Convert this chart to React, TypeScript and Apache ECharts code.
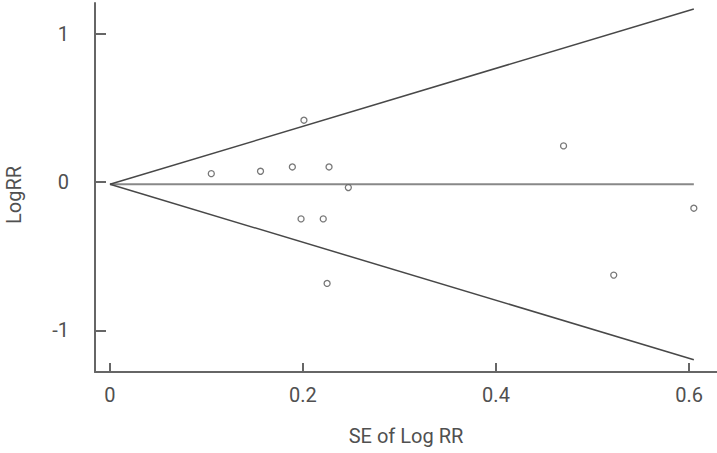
import React, { useEffect, useRef } from "react";
import * as echarts from "echarts";

// Study-level estimates
const seValues = [0.105, 0.156, 0.189, 0.201, 0.227, 0.247, 0.198, 0.221, 0.225, 0.47, 0.522, 0.605];
const logRRValues = [0.057, 0.073, 0.102, 0.417, 0.102, -0.037, -0.248, -0.248, -0.683, 0.244, -0.627, -0.176];

// Pooled estimate and funnel limits
const pooledLogRR = -0.015;
const funnelSE = [0, 0.605];
const upperLimit = [-0.015, 1.167];
const lowerLimit = [-0.015, -1.197];

const xTickValues = [0, 0.2, 0.4, 0.6];
const yTickValues = [-1, 0, 1];

const FONT = "Roboto, 'Liberation Sans', sans-serif";

export default function App() {
  const ref = useRef<HTMLDivElement>(null);

  useEffect(() => {
    if (!ref.current) return;
    const chart = echarts.init(ref.current, null, { renderer: "svg" });
    const points = seValues.map((x, i) => [x, logRRValues[i]]);
    const axisColor = "#666666";
    const textColor = "#505050";
    chart.setOption({
      animation: false,
      backgroundColor: "#ffffff",
      grid: { left: 95, right: 0, top: 3, bottom: 81 },
      graphic: [
        {
          type: "text",
          x: 14,
          y: 195,
          rotation: Math.PI / 2,
          style: {
            text: "LogRR",
            fontFamily: FONT,
            fontSize: 20,
            fill: textColor,
            align: "center",
            verticalAlign: "middle",
          },
        },
      ],
      xAxis: {
        type: "value",
        min: -0.0155,
        max: 0.629,
        name: "SE of Log RR",
        nameLocation: "middle",
        nameGap: 54,
        nameTextStyle: { fontFamily: FONT, fontSize: 20, color: textColor },
        splitLine: { show: false },
        axisLine: { show: true, onZero: false, lineStyle: { color: axisColor, width: 2 } },
        axisTick: {
          show: true,
          inside: true,
          length: 9,
          customValues: xTickValues,
          lineStyle: { color: axisColor, width: 2 },
        },
        axisLabel: {
          customValues: xTickValues,
          fontFamily: FONT,
          fontSize: 20,
          color: textColor,
          margin: 13,
          formatter: (v: number) => String(v),
        },
      },
      yAxis: {
        type: "value",
        min: -1.28,
        max: 1.207,
        splitLine: { show: false },
        axisLine: { show: true, onZero: false, lineStyle: { color: axisColor, width: 2 } },
        axisTick: {
          show: true,
          inside: true,
          length: 11,
          customValues: yTickValues,
          lineStyle: { color: axisColor, width: 2 },
        },
        axisLabel: {
          customValues: yTickValues,
          fontFamily: FONT,
          fontSize: 20,
          color: textColor,
          margin: 26,
          formatter: (v: number) => String(v),
        },
      },
      series: [
        {
          type: "line",
          data: [
            [funnelSE[0], pooledLogRR],
            [funnelSE[1], pooledLogRR],
          ],
          symbol: "none",
          lineStyle: { color: "#888888", width: 2 },
          z: 1,
        },
        {
          type: "line",
          data: [
            [funnelSE[0], upperLimit[0]],
            [funnelSE[1], upperLimit[1]],
          ],
          symbol: "none",
          lineStyle: { color: "#484848", width: 1.5 },
          z: 2,
        },
        {
          type: "line",
          data: [
            [funnelSE[0], lowerLimit[0]],
            [funnelSE[1], lowerLimit[1]],
          ],
          symbol: "none",
          lineStyle: { color: "#484848", width: 1.5 },
          z: 2,
        },
        {
          type: "scatter",
          data: points,
          symbol: "circle",
          symbolSize: 6,
          itemStyle: { color: "#ffffff", borderColor: "#555555", borderWidth: 1.3 },
          z: 3,
        },
      ],
    });
    return () => chart.dispose();
  }, []);

  return (
    <div
      ref={ref}
      style={{ position: "fixed", left: 0, top: 0, width: 717, height: 453 }}
    />
  );
}
